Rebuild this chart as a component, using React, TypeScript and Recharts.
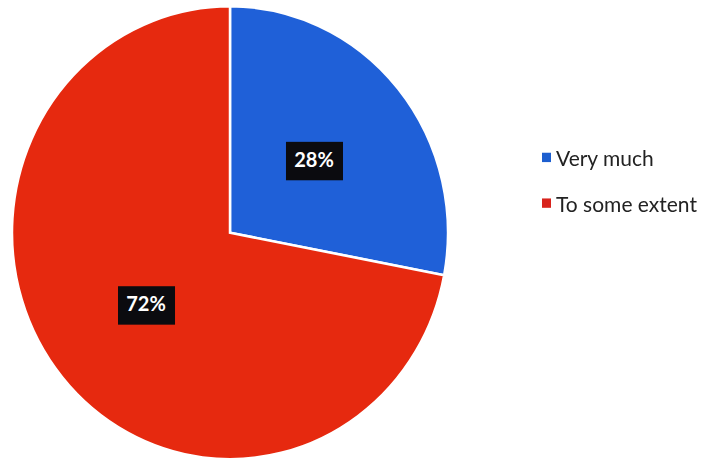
import { PieChart, Pie, Cell, Legend } from "recharts";

const categories = ["Very much", "To some extent"];
const shares = [28, 72];
const colors = ["#1F60D8", "#E6290F"];
const legendColors = ["#1C5ECF", "#D8231C"];

const data = categories.map((name, i) => ({ name, value: shares[i] }));

const RADIAN = Math.PI / 180;

function renderLabel(props: any) {
  const { cx, cy, midAngle, outerRadius, value } = props;
  const r = outerRadius * 0.5;
  const x = cx + r * Math.cos(-midAngle * RADIAN);
  const y = cy + r * Math.sin(-midAngle * RADIAN);
  return (
    <g>
      <rect x={x - 28} y={y - 18} width={57} height={37} fill="#0b0b0f" />
      <text
        x={x}
        y={y + 1}
        fill="#ffffff"
        textAnchor="middle"
        dominantBaseline="middle"
        fontSize={20}
        fontWeight="bold"
        fontFamily="Lato, 'Open Sans', sans-serif"
      >
        {value}%
      </text>
    </g>
  );
}

function LegendBox() {
  return (
    <div style={{ fontFamily: "Lato, 'Open Sans', sans-serif", fontSize: 21, color: "#222" }}>
      {categories.map((name, i) => (
        <div key={name} style={{ display: "flex", alignItems: "center", height: 24, marginBottom: 20 }}>
          <span
            style={{ width: 9, height: 9, background: legendColors[i], marginRight: 5, display: "inline-block" }}
          />
          <span>{name}</span>
        </div>
      ))}
    </div>
  );
}

export default function App() {
  return (
    <div
      style={{
        position: "absolute",
        left: 0,
        top: 0,
        width: 703,
        height: 464,
        background: "#fff",
        transform: "scaleY(1.039)",
        transformOrigin: "0 0",
      }}
    >
      <PieChart width={703} height={450} margin={{ top: 0, right: 0, bottom: 0, left: 0 }}>
        <Pie
          data={data}
          dataKey="value"
          nameKey="name"
          cx={230}
          cy={224}
          outerRadius={218}
          startAngle={90}
          endAngle={-270}
          stroke="#ffffff"
          strokeWidth={2.5}
          label={renderLabel}
          labelLine={false}
          isAnimationActive={false}
        >
          {data.map((d, i) => (
            <Cell key={d.name} fill={colors[i]} />
          ))}
        </Pie>
        <Legend
          content={() => <LegendBox />}
          wrapperStyle={{ position: "absolute", left: 542, top: 139, width: 170 }}
        />
      </PieChart>
    </div>
  );
}
